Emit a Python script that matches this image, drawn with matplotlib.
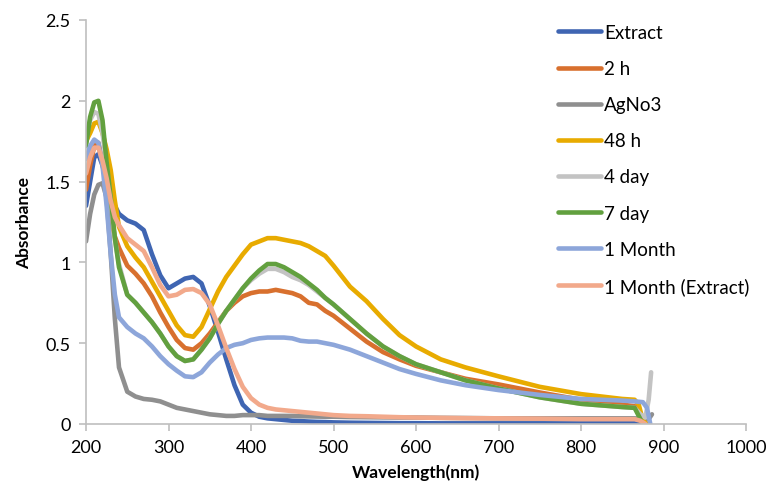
import matplotlib
matplotlib.use("Agg")
import matplotlib.pyplot as plt

plt.rcParams['font.family'] = ['Lato', 'DejaVu Sans']

# Common wavelength grid (nm)
wl = [200, 205, 210, 215, 220, 225, 230, 235, 240, 250, 260, 270, 280, 290,
      300, 310, 320, 330, 340, 350, 360, 370, 380, 390, 400, 410, 420, 430,
      440, 450, 460, 470, 480, 490, 500, 520, 540, 560, 580, 600, 630, 660,
      700, 750, 800, 850, 865]

extract = [1.35, 1.50, 1.65, 1.67, 1.60, 1.50, 1.42, 1.35, 1.30, 1.26, 1.24, 1.20, 1.05, 0.92,
           0.84, 0.87, 0.90, 0.91, 0.87, 0.73, 0.57, 0.40, 0.24, 0.12, 0.07, 0.045, 0.035, 0.03,
           0.025, 0.02, 0.018, 0.015, 0.013, 0.012, 0.010, 0.008, 0.007, 0.006, 0.005, 0.005, 0.004, 0.004,
           0.004, 0.004, 0.004, 0.004, 0.004]
h2 = [1.45, 1.60, 1.72, 1.74, 1.62, 1.45, 1.28, 1.16, 1.09, 0.98, 0.93, 0.87, 0.79, 0.69,
      0.60, 0.52, 0.47, 0.46, 0.50, 0.56, 0.63, 0.70, 0.75, 0.79, 0.81, 0.82, 0.82, 0.83,
      0.82, 0.81, 0.79, 0.75, 0.74, 0.70, 0.67, 0.59, 0.51, 0.445, 0.40, 0.36, 0.32, 0.28,
      0.245, 0.195, 0.15, 0.12, 0.11]
agno3 = [1.13, 1.30, 1.42, 1.48, 1.49, 1.40, 1.05, 0.65, 0.35, 0.20, 0.17, 0.155, 0.15, 0.14,
         0.12, 0.10, 0.09, 0.08, 0.07, 0.06, 0.055, 0.05, 0.05, 0.055, 0.055, 0.055, 0.05, 0.05,
         0.05, 0.05, 0.048, 0.047, 0.046, 0.045, 0.045, 0.043, 0.042, 0.041, 0.04, 0.04, 0.038, 0.037,
         0.035, 0.035, 0.035, 0.035, 0.035]
h48 = [1.75, 1.80, 1.86, 1.87, 1.80, 1.70, 1.57, 1.38, 1.22, 1.10, 1.03, 0.97, 0.88, 0.79,
       0.70, 0.61, 0.55, 0.54, 0.60, 0.71, 0.82, 0.91, 0.98, 1.05, 1.11, 1.13, 1.15, 1.15,
       1.14, 1.13, 1.12, 1.10, 1.07, 1.04, 0.98, 0.85, 0.76, 0.65, 0.55, 0.48, 0.40, 0.35,
       0.295, 0.23, 0.185, 0.155, 0.15]
day4 = [1.78, 1.88, 1.93, 1.92, 1.80, 1.60, 1.38, 1.14, 0.99, 0.80, 0.75, 0.69, 0.63, 0.56,
        0.48, 0.42, 0.39, 0.40, 0.46, 0.53, 0.62, 0.70, 0.77, 0.84, 0.89, 0.93, 0.96, 0.96,
        0.94, 0.91, 0.89, 0.86, 0.82, 0.78, 0.74, 0.65, 0.56, 0.48, 0.42, 0.37, 0.32, 0.27,
        0.22, 0.165, 0.125, 0.105, 0.10]
day7 = [1.72, 1.90, 1.99, 2.00, 1.88, 1.62, 1.40, 1.15, 0.97, 0.80, 0.75, 0.69, 0.63, 0.56,
        0.48, 0.42, 0.39, 0.40, 0.46, 0.53, 0.62, 0.70, 0.77, 0.84, 0.90, 0.95, 0.99, 0.99,
        0.97, 0.94, 0.91, 0.87, 0.83, 0.78, 0.74, 0.65, 0.56, 0.48, 0.42, 0.37, 0.32, 0.27,
        0.22, 0.165, 0.125, 0.105, 0.10]
month1 = [1.64, 1.72, 1.76, 1.74, 1.60, 1.35, 1.05, 0.80, 0.66, 0.60, 0.56, 0.53, 0.48, 0.42,
          0.37, 0.33, 0.295, 0.29, 0.32, 0.38, 0.43, 0.47, 0.49, 0.50, 0.52, 0.53, 0.535, 0.535,
          0.535, 0.53, 0.515, 0.51, 0.51, 0.50, 0.49, 0.46, 0.42, 0.38, 0.34, 0.31, 0.27, 0.24,
          0.21, 0.18, 0.155, 0.145, 0.14]
month1_ext = [1.55, 1.65, 1.71, 1.71, 1.63, 1.52, 1.38, 1.28, 1.23, 1.15, 1.11, 1.07, 0.97, 0.86,
              0.79, 0.80, 0.83, 0.835, 0.81, 0.74, 0.61, 0.47, 0.34, 0.23, 0.16, 0.12, 0.10, 0.09,
              0.085, 0.08, 0.075, 0.07, 0.065, 0.06, 0.055, 0.05, 0.048, 0.045, 0.042, 0.04, 0.038, 0.036,
              0.035, 0.033, 0.03, 0.03, 0.03]

# End-of-scan points for each series
tails = {
    'Extract': ([875, 880], [0.0, 0.0]),
    '2 h': ([870, 875, 880], [0.10, 0.02, 0.0]),
    'AgNo3': ([875, 882, 886], [0.03, 0.03, 0.06]),
    '48 h': ([870, 875, 880], [0.12, 0.02, 0.0]),
    '4 day': ([872, 878, 882, 885], [0.06, 0.04, 0.15, 0.32]),
    '7 day': ([870, 875], [0.05, 0.0]),
    '1 Month': ([875, 880, 884], [0.135, 0.10, 0.0]),
    '1 Month (Extract)': ([872, 878], [0.02, 0.0]),
}

labels = ['Extract', '2 h', 'AgNo3', '48 h', '4 day', '7 day', '1 Month', '1 Month (Extract)']
series = [extract, h2, agno3, h48, day4, day7, month1, month1_ext]
colors = ['#3F65B2', '#D8702E', '#8F8F8F', '#E8AB00', '#C3C3C3', '#62A03F', '#8DA6DA', '#F2A98B']

fig = plt.figure(figsize=(7.69, 4.89), dpi=100)
ax = fig.add_axes([86 / 769, 1 - 425 / 489, 660 / 769, 404 / 489])

for lab, ys, c in zip(labels, series, colors):
    tx, ty = tails[lab]
    ax.plot(wl + tx, ys + ty, color=c, lw=3.3, label=lab,
            solid_capstyle='round', solid_joinstyle='round')

ax.set_xlim(200, 1000)
ax.set_ylim(0, 2.5)
ax.set_xticks(range(200, 1001, 100))
ax.set_yticks([0, 0.5, 1, 1.5, 2, 2.5])
ax.set_yticklabels(['0', '0.5', '1', '1.5', '2', '2.5'])

for s in ['top', 'right']:
    ax.spines[s].set_visible(False)
for s in ['left', 'bottom']:
    ax.spines[s].set_color('#BFBFBF')
    ax.spines[s].set_linewidth(1.2)
ax.tick_params(axis='both', direction='out', length=5, width=1.2, color='#BFBFBF',
               labelsize=13, labelcolor='#000000', pad=6)

ax.set_xlabel('Wavelength(nm)', fontsize=12.5, fontweight='bold', labelpad=6)
ax.set_ylabel('Absorbance', fontsize=12.5, fontweight='bold', labelpad=10)

leg = ax.legend(loc='upper left', bbox_to_anchor=(558 / 769, 1 - 25 / 489),
                bbox_transform=fig.transFigure, frameon=False, fontsize=13.5,
                handlelength=2.3, handletextpad=0.15, labelspacing=1.02,
                borderaxespad=0, borderpad=0)
for line in leg.get_lines():
    line.set_linewidth(3.3)

fig.savefig('out.png', dpi=100)
